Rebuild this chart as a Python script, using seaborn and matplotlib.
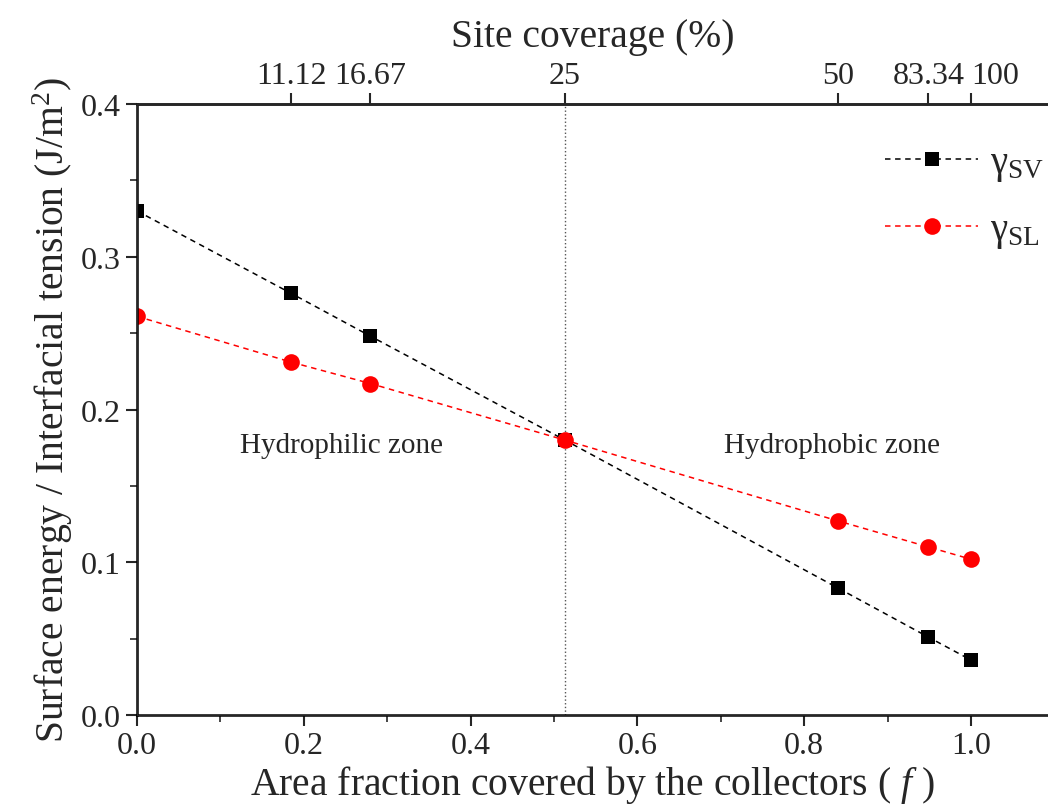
import numpy as np
import pandas as pd
import matplotlib
matplotlib.use("Agg")
import matplotlib.pyplot as plt
import seaborn as sns
from matplotlib.ticker import MultipleLocator, FormatStrFormatter

# ---- data ----
area_fraction = [0.0, 0.185, 0.280, 0.513, 0.841, 0.949, 1.0]
gamma_sv = [0.330, 0.276, 0.248, 0.180, 0.083, 0.051, 0.036]
gamma_sl = [0.261, 0.231, 0.217, 0.180, 0.127, 0.110, 0.102]
site_cov_pos = [0.185, 0.280, 0.513, 0.841, 0.949, 1.0]
site_cov_labels = ["11.12", "16.67", "25", "50", "83.34", "100"]

sns.set_style("ticks")
plt.rcParams['font.family'] = ['Liberation Serif', 'DejaVu Serif']
plt.rcParams['mathtext.fontset'] = 'custom'
plt.rcParams['mathtext.rm'] = 'Liberation Serif'
plt.rcParams['mathtext.it'] = 'Liberation Serif:italic'

fig = plt.figure(figsize=(10.48, 8.12), dpi=100)
ax = fig.add_axes([0.1307, 0.1182, 0.8693, 0.7525])

df = pd.DataFrame({"f": area_fraction, "sv": gamma_sv, "sl": gamma_sl})
sns.lineplot(data=df, x="f", y="sv", ax=ax, color="black",
             linewidth=1.1, marker="s", markersize=10.5,
             markeredgewidth=0, label=r"γ$_{\mathrm{SV}}$")
sns.lineplot(data=df, x="f", y="sl", ax=ax, color="red",
             linewidth=1.1, marker="o", markersize=12,
             markeredgewidth=0, label=r"γ$_{\mathrm{SL}}$")
for ln in ax.get_lines():
    ln.set_linestyle((0, (3.6, 3.0)))

ax.axvline(0.513, color="#555555", linestyle=":", linewidth=1.0, zorder=0)

ax.set_xlim(0, 1.0924)
ax.set_ylim(0, 0.4)
ax.xaxis.set_major_locator(MultipleLocator(0.2))
ax.xaxis.set_minor_locator(MultipleLocator(0.1))
ax.yaxis.set_major_locator(MultipleLocator(0.1))
ax.yaxis.set_minor_locator(MultipleLocator(0.05))
ax.xaxis.set_major_formatter(FormatStrFormatter('%.1f'))
ax.yaxis.set_major_formatter(FormatStrFormatter('%.1f'))
ax.tick_params(which="major", direction="out", length=8, width=1.5, labelsize=23)
ax.tick_params(which="minor", direction="out", length=5, width=1.2)
for s in ["left", "bottom", "top"]:
    ax.spines[s].set_linewidth(1.8)
    ax.spines[s].set_color("black")
ax.spines["right"].set_visible(False)

ax.set_xlabel(r"Area fraction covered by the collectors ( $f$ )", fontsize=28.5, labelpad=2)
ax.set_ylabel(r"Surface energy / Interfacial tension (J/m$^2$)", fontsize=28.5, labelpad=4)

ax.text(0.245, 0.177, "Hydrophilic zone", fontsize=21, ha="center", va="center")
ax.text(0.833, 0.177, "Hydrophobic zone", fontsize=21, ha="center", va="center")

top = ax.twiny()
top.set_xlim(ax.get_xlim())
top.set_xticks(site_cov_pos)
top.set_xticklabels(site_cov_labels)
top.tick_params(axis="x", direction="out", length=8, width=1.5, labelsize=23, pad=2)
tl = top.get_xticklabels()
tl[-1].set_horizontalalignment("left")
top.spines["right"].set_visible(False)
top.spines["top"].set_linewidth(1.8)
top.set_xlabel("Site coverage (%)", fontsize=28.5, labelpad=11)

leg = ax.legend(loc="upper left", bbox_to_anchor=(0.821, 0.934), frameon=False,
                borderaxespad=0, borderpad=0,
                fontsize=28, handlelength=2.4, labelspacing=0.72, handletextpad=0.3)

fig.savefig("out.png", dpi=100)
